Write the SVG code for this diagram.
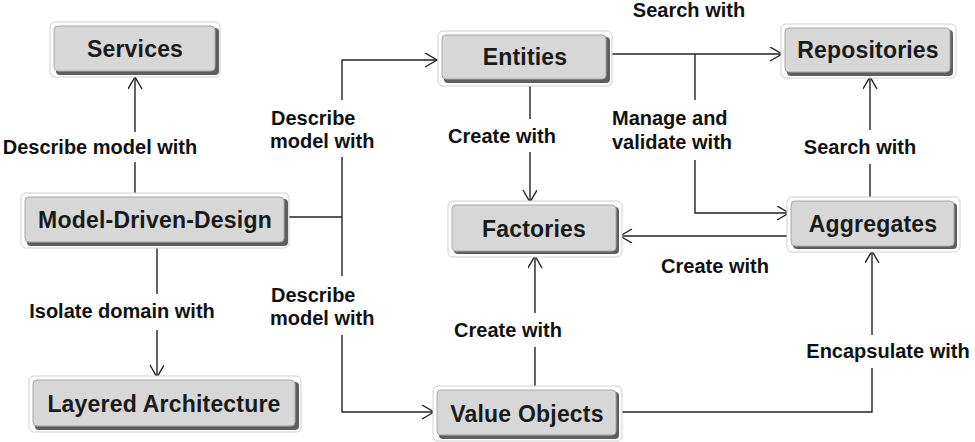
<svg xmlns="http://www.w3.org/2000/svg" width="975" height="442" viewBox="0 0 975 442">
<defs>
<style>
.frame{fill:#fff;stroke:#cfcfcf;stroke-width:1}
.shadow{fill:#5e5e5e}
.box{fill:#d7d7d7;stroke:#a8a8a8;stroke-width:1}
.nt{font-family:"Liberation Sans",Arial,sans-serif;font-weight:bold;font-size:23px;fill:#1a1a1a;text-anchor:middle;letter-spacing:0.2px}
.lt{font-family:"Liberation Sans",Arial,sans-serif;font-weight:bold;font-size:20px;fill:#111}
.c{fill:none;stroke:#222;stroke-width:1.4}
</style>
<marker id="ah" markerUnits="userSpaceOnUse" markerWidth="16" markerHeight="16" refX="13" refY="7" orient="auto">
<path d="M1,0 L13,7 L1,14" fill="none" stroke="#222" stroke-width="1.4"/>
</marker>
</defs>
<rect width="975" height="442" fill="#fff"/>

<g id="connectors">
<!-- MDD -> Services -->
<path class="c" d="M135,195 V162"/>
<path class="c" d="M135,132 V77" marker-end="url(#ah)"/>
<!-- MDD -> Layered Architecture -->
<path class="c" d="M157,247 V294"/>
<path class="c" d="M157,330 V377" marker-end="url(#ah)"/>
<!-- MDD -> Entities / Value Objects -->
<path class="c" d="M287,217 H342"/>
<path class="c" d="M342,100 V60 H437" marker-end="url(#ah)"/>
<path class="c" d="M342,157 V276"/>
<path class="c" d="M342,335 V412 H434" marker-end="url(#ah)"/>
<!-- Entities -> Factories -->
<path class="c" d="M530,84 V119"/>
<path class="c" d="M530,152 V202" marker-end="url(#ah)"/>
<!-- Entities -> Repositories, Aggregates -->
<path class="c" d="M611,54 H782" marker-end="url(#ah)"/>
<path class="c" d="M695,54 V100"/>
<path class="c" d="M695,160 V213 H789" marker-end="url(#ah)"/>
<!-- Aggregates -> Repositories -->
<path class="c" d="M870,197 V164"/>
<path class="c" d="M870,130 V77" marker-end="url(#ah)"/>
<!-- Aggregates -> Factories -->
<path class="c" d="M789,236 H620" marker-end="url(#ah)"/>
<!-- Value Objects -> Factories -->
<path class="c" d="M535,386 V347"/>
<path class="c" d="M535,313 V256" marker-end="url(#ah)"/>
<!-- Value Objects -> Aggregates -->
<path class="c" d="M621,412 H872 V368"/>
<path class="c" d="M872,335 V251" marker-end="url(#ah)"/>
</g>

<g id="labels">
<text class="lt" x="100" y="154" text-anchor="middle">Describe model with</text>
<text class="lt" x="122" y="318" text-anchor="middle">Isolate domain with</text>
<text class="lt" x="271" y="125">Describe</text>
<text class="lt" x="270" y="148">model with</text>
<text class="lt" x="271" y="302">Describe</text>
<text class="lt" x="270" y="325">model with</text>
<text class="lt" x="502" y="143" text-anchor="middle">Create with</text>
<text class="lt" x="689" y="17" text-anchor="middle">Search with</text>
<text class="lt" x="612" y="125">Manage and</text>
<text class="lt" x="612" y="149">validate with</text>
<text class="lt" x="860" y="154" text-anchor="middle">Search with</text>
<text class="lt" x="715" y="273" text-anchor="middle">Create with</text>
<text class="lt" x="508" y="337" text-anchor="middle">Create with</text>
<text class="lt" x="888" y="358" text-anchor="middle">Encapsulate with</text>
</g>

<g id="services">
<rect class="frame" x="50" y="22" width="170" height="55" rx="5"/>
<rect class="shadow" x="56" y="28" width="163" height="47" rx="4"/>
<rect class="box" x="54" y="26" width="161" height="45" rx="4"/>
<text class="nt" x="135" y="57">Services</text>
</g>
<g id="model-driven-design">
<rect class="frame" x="21" y="193" width="268" height="55" rx="5"/>
<rect class="shadow" x="27" y="199" width="261" height="47" rx="4"/>
<rect class="box" x="25" y="197" width="259" height="45" rx="4"/>
<text class="nt" x="155" y="228">Model-Driven-Design</text>
</g>
<g id="layered-architecture">
<rect class="frame" x="29" y="376" width="272" height="56" rx="5"/>
<rect class="shadow" x="35" y="382" width="264" height="48" rx="4"/>
<rect class="box" x="33" y="380" width="262" height="46" rx="4"/>
<text class="nt" x="164" y="412">Layered Architecture</text>
</g>
<g id="entities">
<rect class="frame" x="438" y="31" width="174" height="55" rx="5"/>
<rect class="shadow" x="444" y="37" width="166" height="46" rx="4"/>
<rect class="box" x="442" y="35" width="164" height="44" rx="4"/>
<text class="nt" x="525" y="65">Entities</text>
</g>
<g id="repositories">
<rect class="frame" x="781" y="24" width="175" height="54" rx="5"/>
<rect class="shadow" x="787" y="30" width="166" height="46" rx="4"/>
<rect class="box" x="785" y="28" width="165" height="44" rx="4"/>
<text class="nt" x="868" y="58">Repositories</text>
</g>
<g id="factories">
<rect class="frame" x="448" y="201" width="174" height="56" rx="5"/>
<rect class="shadow" x="454" y="207" width="165" height="47" rx="4"/>
<rect class="box" x="452" y="205" width="164" height="46" rx="4"/>
<text class="nt" x="534" y="237">Factories</text>
</g>
<g id="aggregates">
<rect class="frame" x="787" y="197" width="173" height="55" rx="5"/>
<rect class="shadow" x="793" y="203" width="164" height="46" rx="4"/>
<rect class="box" x="791" y="201" width="163" height="45" rx="4"/>
<text class="nt" x="873" y="232">Aggregates</text>
</g>
<g id="value-objects">
<rect class="frame" x="433" y="386" width="189" height="55" rx="5"/>
<rect class="shadow" x="439" y="392" width="180" height="47" rx="4"/>
<rect class="box" x="437" y="390" width="179" height="45" rx="4"/>
<text class="nt" x="527" y="422">Value Objects</text>
</g>
</svg>
